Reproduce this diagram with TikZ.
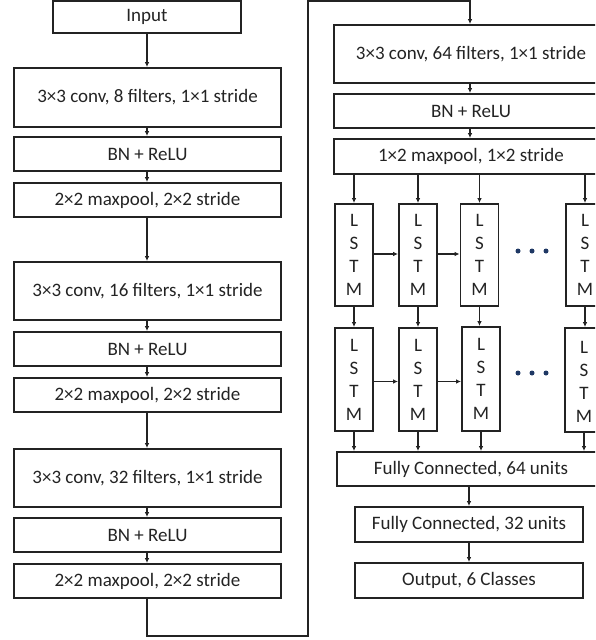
\documentclass[tikz,border=0pt]{standalone}
\usepackage{fontspec}
\setmainfont{Carlito}
\usetikzlibrary{arrows.meta}
\definecolor{ink}{RGB}{35,35,35}
\definecolor{dotblue}{RGB}{31,56,100}
\begin{document}
\begin{tikzpicture}[x=1pt,y=-1pt,
  box/.style={draw=ink, line width=1.8pt, inner sep=0pt, text=ink,
    font=\fontsize{19}{22}\selectfont},
  lstm/.style={box, minimum width=38pt, minimum height=102pt, align=center,
    font=\fontsize{19}{23}\selectfont},
  arr/.style={-{Latex[length=5pt,width=4.5pt]}, line width=1.2pt, draw=ink},
  dot/.style={circle, fill=dotblue, inner sep=0pt, minimum size=5pt},
  ]
\useasboundingbox (0,0) rectangle (595,640);
\clip (0,0) rectangle (595,640);

% left column
\node[box, minimum width=188pt, minimum height=32pt] (in) at (147,17) {Input};
\node[box, minimum width=267pt, minimum height=59pt] (c1) at (147.5,97.5) {3×3 conv, 8 filters, 1×1 stride};
\node[box, minimum width=267pt, minimum height=34pt] (b1) at (147.5,154) {BN + ReLU};
\node[box, minimum width=267pt, minimum height=34pt] (m1) at (147.5,200) {2×2 maxpool, 2×2 stride};
\node[box, minimum width=267pt, minimum height=58pt] (c2) at (147.5,291) {3×3 conv, 16 filters, 1×1 stride};
\node[box, minimum width=267pt, minimum height=34pt] (b2) at (147.5,349) {BN + ReLU};
\node[box, minimum width=267pt, minimum height=34pt] (m2) at (147.5,395) {2×2 maxpool, 2×2 stride};
\node[box, minimum width=267pt, minimum height=58pt] (c3) at (147.5,478) {3×3 conv, 32 filters, 1×1 stride};
\node[box, minimum width=267pt, minimum height=34pt] (b3) at (147.5,535) {BN + ReLU};
\node[box, minimum width=267pt, minimum height=34pt] (m3) at (147.5,581) {2×2 maxpool, 2×2 stride};

% right column
\node[box, minimum width=274pt, minimum height=58pt] (c4) at (471,54) {3×3 conv, 64 filters, 1×1 stride};
\node[box, minimum width=274pt, minimum height=34pt] (b4) at (471,111) {BN + ReLU};
\node[box, minimum width=274pt, minimum height=35pt] (m4) at (471,156.5) {1×2 maxpool, 1×2 stride};

\node[lstm] (l11) at (354,255) {L\\S\\T\\M};
\node[lstm] (l12) at (418,255) {L\\S\\T\\M};
\node[lstm] (l13) at (479.5,255) {L\\S\\T\\M};
\node[lstm] (l14) at (585,255) {L\\S\\T\\M};
\node[lstm, minimum height=103pt] (l21) at (354,379.5) {L\\S\\T\\M};
\node[lstm, minimum height=103pt] (l22) at (418,379.5) {L\\S\\T\\M};
\node[lstm, minimum height=104pt] (l23) at (481,379) {L\\S\\T\\M};
\node[lstm, minimum height=104pt] (l24) at (584,380) {\\[-8pt]L\\S\\T\\M};

\node[dot] (d11) at (518,251) {};
\node[dot] (d12) at (532,251) {};
\node[dot] (d13) at (546,251) {};
\node[dot] (d21) at (518,373) {};
\node[dot] (d22) at (532,373) {};
\node[dot] (d23) at (546,373) {};

\node[box, minimum width=268pt, minimum height=34pt] (f1) at (471,469) {Fully Connected, 64 units};
\node[box, minimum width=228pt, minimum height=35pt] (f2) at (469,524.5) {Fully Connected, 32 units};
\node[box, minimum width=228pt, minimum height=35pt] (out) at (469,580.5) {Output, 6 Classes};

% connectors left
\draw[arr] (in) -- (in.south |- c1.north);
\draw[arr] (c1.south -| in.south) -- (in.south |- b1.north);
\draw[arr] (b1.south -| in.south) -- (in.south |- m1.north);
\draw[arr] (m1.south -| in.south) -- (in.south |- c2.north);
\draw[arr] (c2.south -| in.south) -- (in.south |- b2.north);
\draw[arr] (b2.south -| in.south) -- (in.south |- m2.north);
\draw[arr] (m2.south -| in.south) -- (in.south |- c3.north);
\draw[arr] (c3.south -| in.south) -- (in.south |- b3.north);
\draw[arr] (b3.south -| in.south) -- (in.south |- m3.north);

% loop
\coordinate (lp1) at (147,636);
\coordinate (lp2) at (308,636);
\coordinate (lp3) at (308,1);
\coordinate (lp4) at (470,1);
\draw[arr] (m3.south -| in.south) -- (lp1) -- (lp2) -- (lp3) -- (lp4) -- (lp4 |- c4.north);

% connectors right
\draw[arr] (c4.south -| lp4) -- (lp4 |- b4.north);
\draw[arr] (b4.south -| lp4) -- (lp4 |- m4.north);
\foreach \n in {1,2,3,4} {
  \draw[arr] (m4.south -| l1\n.north) -- (l1\n.north);
  \draw[arr] (l1\n.south) -- (l1\n.south |- l2\n.north);
  \draw[arr] (l2\n.south) -- (l2\n.south |- f1.north);
}
\draw[arr] ([yshift=1pt]l11.east) -- ([yshift=1pt]l11.east -| l12.west);
\draw[arr] ([yshift=1pt]l12.east) -- ([yshift=1pt]l12.east -| l13.west);
\draw[arr] ([yshift=-2pt]l21.east) -- ([yshift=-2pt]l21.east -| l22.west);
\draw[arr] ([yshift=-2pt]l22.east) -- ([yshift=-2pt]l22.east -| l23.west);

\draw[arr] (f1.south -| f2.north) -- (f2.north);
\draw[arr] (f2.south) -- (out.north);
\end{tikzpicture}
\end{document}
